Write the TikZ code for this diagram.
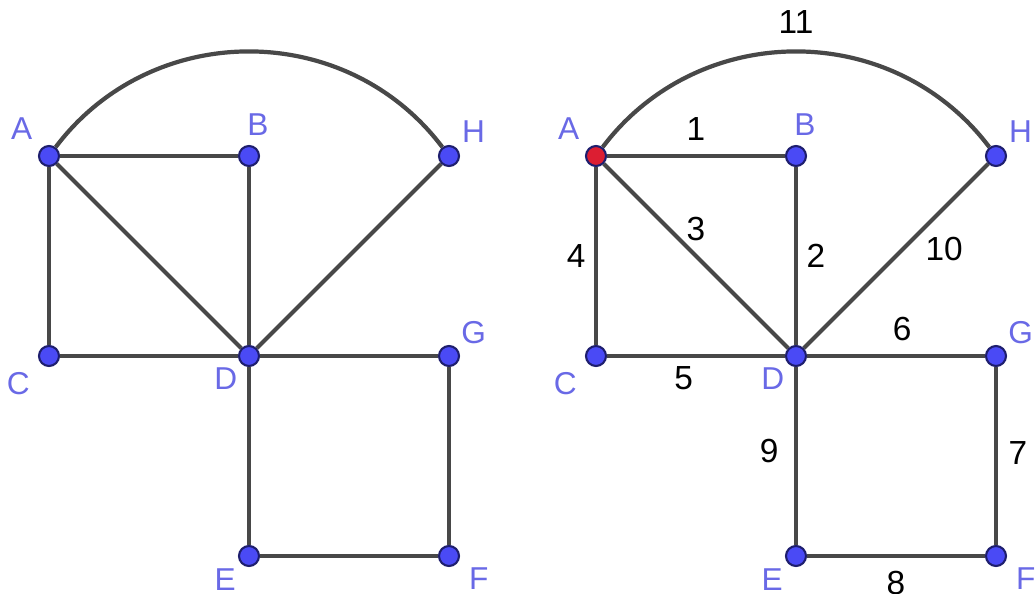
\documentclass[tikz,border=0pt]{standalone}
\usepackage{fontspec}
\setmainfont{Liberation Sans}

\definecolor{vtxblue}{RGB}{74,74,245}
\definecolor{vtxline}{RGB}{30,30,110}
\definecolor{vtxred}{RGB}{220,30,50}
\definecolor{lblblue}{RGB}{105,105,230}
\definecolor{edgegray}{RGB}{72,72,72}

\begin{document}
\begin{tikzpicture}[
    vertex/.style={circle, fill=vtxblue, draw=vtxline, line width=0.6pt, inner sep=0pt, minimum size=2mm},
    start/.style={vertex, fill=vtxred},
    edge/.style={draw=edgegray, line width=1.2pt},
    every label/.style={text=lblblue, font=\fontsize{9}{10}\selectfont},
    wt/.style={font=\fontsize{9.5}{11}\selectfont, text=black, inner sep=1pt}
]
    \useasboundingbox (-0.49,-0.38) rectangle (9.86,5.56);

    % Left: the graph alone
    \node[vertex, label={[label distance=-0.5mm]135:A}] (la) at (0,4) {};
    \node[vertex, label={[xshift=0.9mm, label distance=-0.3mm]above:B}] (lb) at (2,4) {};
    \node[vertex, label={[label distance=-1mm]45:H}] (lh) at (4,4) {};
    \node[vertex, label={[label distance=-0.3mm]212:C}] (lc) at (0,2) {};
    \node[vertex, label={[label distance=-1.2mm]225:D}] (ld) at (2,2) {};
    \node[vertex, label={[label distance=-1.1mm]45:G}] (lg) at (4,2) {};
    \node[vertex, label={[label distance=-1mm]225:E}] (le) at (2,0) {};
    \node[vertex, label={[yshift=0.8mm]-45:F}] (lf) at (4,0) {};
    \draw[edge] (la) -- (lb);
    \draw[edge] (lb) -- (ld);
    \draw[edge] (la) -- (ld);
    \draw[edge] (la) -- (lc);
    \draw[edge] (lc) -- (ld);
    \draw[edge] (ld) -- (lg);
    \draw[edge] (lg) -- (lf);
    \draw[edge] (lf) -- (le);
    \draw[edge] (le) -- (ld);
    \draw[edge] (ld) -- (lh);
    \draw[edge] (la) to[bend left=53, looseness=1.06] (lh);

    % Right: same graph, edges numbered from A
    \begin{scope}[xshift=5.47cm]
        \node[start, label={[label distance=-0.5mm]135:A}] (ra) at (0,4) {};
        \node[vertex, label={[xshift=0.9mm, label distance=-0.3mm]above:B}] (rb) at (2,4) {};
        \node[vertex, label={[label distance=-1mm]45:H}] (rh) at (4,4) {};
        \node[vertex, label={[label distance=-0.3mm]212:C}] (rc) at (0,2) {};
        \node[vertex, label={[label distance=-1.2mm]225:D}] (rd) at (2,2) {};
        \node[vertex, label={[label distance=-1.1mm]45:G}] (rg) at (4,2) {};
        \node[vertex, label={[label distance=-1mm]225:E}] (re) at (2,0) {};
        \node[vertex, label={[yshift=0.8mm]-45:F}] (rf) at (4,0) {};
        \draw[edge] (ra) -- node[wt, above=1mm] {1} (rb);
        \draw[edge] (rb) -- node[wt, right=0.5mm] {2} (rd);
        \draw[edge] (ra) -- node[wt, above=1mm] {3} (rd);
        \draw[edge] (ra) -- node[wt, left=0.5mm] {4} (rc);
        \draw[edge] (rc) -- node[wt, pos=0.43, below=0.5mm] {5} (rd);
        \draw[edge] (rd) -- node[wt, pos=0.535, above=1mm] {6} (rg);
        \draw[edge] (rg) -- node[wt, pos=0.485, right=0.7mm] {7} (rf);
        \draw[edge] (rf) -- node[wt, below=1mm] {8} (re);
        \draw[edge] (re) -- node[wt, pos=0.53, left=1.2mm] {9} (rd);
        \draw[edge] (rd) -- node[wt, pos=0.63, below right] {10} (rh);
        \draw[edge] (ra) to[bend left=53, looseness=1.06] node[wt, above=1.2mm] {11} (rh);
    \end{scope}
\end{tikzpicture}
\end{document}
